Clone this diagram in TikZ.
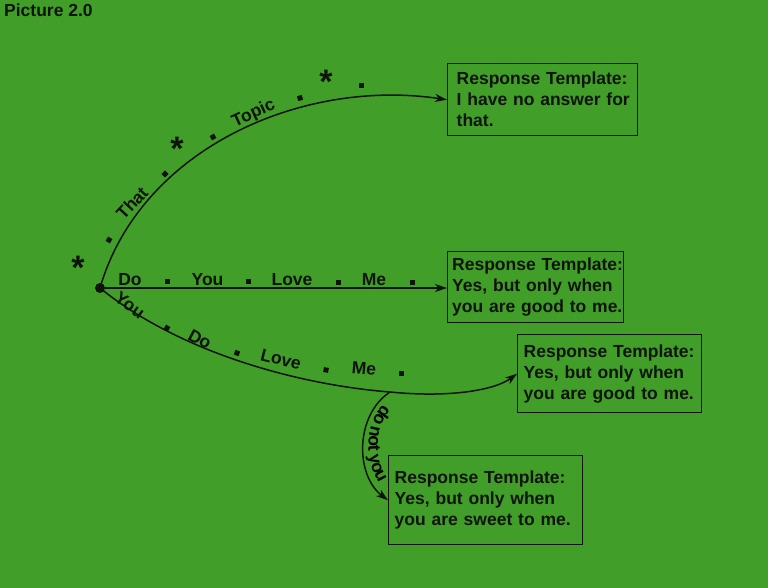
\documentclass[tikz,border=0pt]{standalone}
\usepackage{fontspec}
\newfontfamily\hv{Liberation Sans}
\usetikzlibrary{arrows.meta,decorations.text}
\definecolor{bg}{RGB}{65,158,40}
\definecolor{ink}{RGB}{15,20,10}
\newcommand\lbl{\hv\bfseries\fontsize{17.5}{21}\selectfont}
\begin{document}
\begin{tikzpicture}[x=1pt,y=-1pt,
  every node/.style={text=ink, font=\lbl},
  box/.style={draw=ink, line width=1.4pt, anchor=north west, align=left, inner ysep=0pt},
  conn/.style={draw=ink, line width=1.5pt, -{Stealth[length=12pt,width=8pt,inset=3.5pt]}},
  word/.style={anchor=center, inner sep=0pt, text height=12.5pt, text depth=0pt},
  sqd/.style={fill=ink, minimum size=5pt, inner sep=0pt, rectangle},
  astk/.style={inner sep=0pt, font=\hv\bfseries\fontsize{34}{34}\selectfont, anchor=base, yshift=-19pt},
]
\fill[bg] (0,0) rectangle (768,588);
\useasboundingbox (0,0) rectangle (768,588);

\node[anchor=base west, inner sep=0pt] (title) at (4,17) {Picture 2.0};

% boxes
\node[box, text width=172pt, inner xsep=9pt, minimum height=72pt] (b1) at (447,63)
  {\mbox{Response Template:}\\\mbox{I have no answer for}\\\mbox{that.}};
\node[box, text width=167pt, inner xsep=4.5pt, minimum height=71pt] (b2) at (447,251)
  {\mbox{Response Template:}\\\mbox{Yes, but only when}\\\mbox{you are good to me.}};
\node[box, text width=172pt, inner xsep=6pt, minimum height=78pt] (b3) at (517,334)
  {\mbox{Response Template:}\\\mbox{Yes, but only when}\\\mbox{you are good to me.}};
\node[box, text width=182pt, inner xsep=6pt, minimum height=89pt] (b4) at (388,455)
  {\mbox{Response Template:}\\\mbox{Yes, but only when}\\\mbox{you are sweet to me.}};

% root and connectors
\node[fill=ink, circle, minimum size=10pt, inner sep=0pt] (root) at (100,288) {};
\coordinate (split) at (390,392);
\draw[conn] (root.center) .. controls (140,150) and (300,78) .. (b1.west);
\draw[conn] (root) -- (root -| b2.west);
\draw[conn] (root.center) .. controls (180,353) and (300,385) .. (split)
  .. controls (450,398) and (495,390) .. (b3.west);
\draw[conn] (split) .. controls (355,415) and (355,475) .. (b4.west);
\path[decorate, color=ink, decoration={text along path, text={|\lbl|do not you},
  text align={left indent=15pt}, raise=5pt}]
  (split) .. controls (355,415) and (355,475) .. (b4.west);

% labels on top curve
\node[astk] (t1) at (78,260) {*};
\node[sqd, rotate=60] (t2) at (109,240) {};
\node[word, rotate=47] (t3) at (132,203) {That};
\node[sqd, rotate=45] (t4) at (165,174) {};
\node[astk] (t5) at (177,142) {*};
\node[sqd, rotate=30] (t6) at (213,137) {};
\node[word, rotate=25] (t7) at (253,112) {Topic};
\node[sqd, rotate=15] (t8) at (300,98) {};
\node[astk] (t9) at (326,75) {*};
\node[sqd] (t10) at (361,86) {};

% labels on straight line
\node[word] (m1) at (130,279) {Do};
\node[sqd] (m2) at (167,281) {};
\node[word] (m3) at (207.5,279) {You};
\node[sqd] (m4) at (248,281) {};
\node[word] (m5) at (292,279) {Love};
\node[sqd] (m6) at (338,282) {};
\node[word] (m7) at (374,279) {Me};
\node[sqd] (m8) at (412,282) {};

% labels on lower curve
\node[word, rotate=-36] (l1) at (130,305) {You};
\node[sqd, rotate=-30] (l2) at (167,328) {};
\node[word, rotate=-28] (l3) at (200,339) {Do};
\node[sqd, rotate=-20] (l4) at (237,353) {};
\node[word, rotate=-14] (l5) at (281,359) {Love};
\node[sqd, rotate=-10] (l6) at (326,370) {};
\node[word, rotate=-5] (l7) at (364,368) {Me};
\node[sqd] (l8) at (401,373) {};
\end{tikzpicture}
\end{document}
